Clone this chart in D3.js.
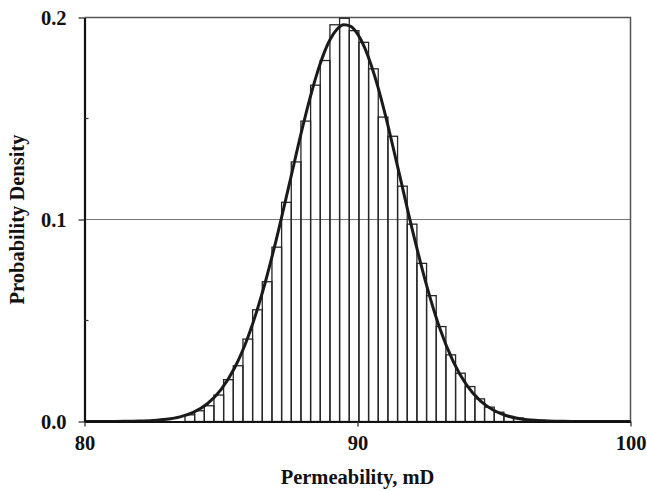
<!DOCTYPE html>
<html>
<head>
<meta charset="utf-8">
<script src="https://cdn.jsdelivr.net/npm/d3@7"></script>
<style>
  html, body { margin: 0; padding: 0; background: #fff; }
  svg { display: block; }
  text { font-family: "Liberation Serif", "Times New Roman", serif; font-weight: bold; fill: #111; }
</style>
</head>
<body>
<svg id="chart" width="647" height="491"></svg>
<script>
// Histogram bin edges (mD); bar i spans binEdges[i] .. binEdges[i+1]
const binEdges = [83.680, 84.034, 84.388, 84.742, 85.096, 85.450, 85.804, 86.158, 86.512,
  86.866, 87.220, 87.574, 87.928, 88.282, 88.636, 88.990, 89.344, 89.698, 90.052, 90.406,
  90.760, 91.114, 91.468, 91.822, 92.176, 92.530, 92.884, 93.238, 93.592, 93.946, 94.300,
  94.654, 95.008, 95.362, 95.716, 96.070];

// Probability density of each bin
const binDensity = [0.0033, 0.0053, 0.0078, 0.0131, 0.0207, 0.0276, 0.0408, 0.0553, 0.0692,
  0.0863, 0.1085, 0.1285, 0.1487, 0.1665, 0.1787, 0.1964, 0.1996, 0.1935, 0.1877, 0.1746,
  0.1507, 0.1412, 0.1165, 0.0977, 0.0783, 0.0623, 0.0470, 0.0330, 0.0239, 0.0173, 0.0112,
  0.0071, 0.0046, 0.0025, 0.0017];

// Fitted density curve: permeability and density
const curveX = [80, 80.5, 81, 81.5, 82, 82.5, 83, 83.5, 84, 84.5, 85, 85.5, 86, 86.5, 87, 87.5,
  88, 88.25, 88.5, 88.75, 89, 89.25, 89.5, 89.75, 90, 90.25, 90.5, 90.75, 91, 91.5, 92, 92.5,
  93, 93.5, 94, 94.5, 95, 95.5, 96, 96.5, 97, 97.5, 98, 98.5, 99, 99.5, 100];
const curveY = [0, 0.00001, 0.00003, 0.00007, 0.00019, 0.00046, 0.00106, 0.00228, 0.00462,
  0.00879, 0.01576, 0.02659, 0.04221, 0.0631, 0.0887, 0.1174, 0.1463, 0.1596, 0.1715, 0.1815,
  0.1892, 0.1942, 0.1964, 0.1956, 0.1919, 0.1855, 0.1765, 0.1655, 0.1528, 0.1244, 0.0954,
  0.0689, 0.0467, 0.0299, 0.01796, 0.01018, 0.00542, 0.00272, 0.00128, 0.00057, 0.00024,
  0.00009, 0.00003, 0, 0, 0, 0];

// Axis ticks
const xTicks = [80, 90, 100];
const yTicks = [0.0, 0.1, 0.2];
const yMinorTicks = [0.05, 0.15];
const xTitle = "Permeability, mD";
const yTitle = "Probability Density";

const svg = d3.select("#chart");
const plot = { left: 84.5, right: 630.5, top: 17.5, bottom: 421.5 };

const x = d3.scaleLinear().domain([80, 100]).range([plot.left, plot.right]);
const y = d3.scaleLinear().domain([0, 0.2]).range([plot.bottom, plot.top]);

// gridline at 0.1
svg.append("g").selectAll("line").data([0.1]).join("line")
  .attr("x1", plot.left).attr("x2", plot.right)
  .attr("y1", d => y(d)).attr("y2", d => y(d))
  .attr("stroke", "#777").attr("stroke-width", 1.2);

// top and right frame
svg.append("path")
  .attr("d", `M${plot.left},${plot.top}H${plot.right}V${plot.bottom}`)
  .attr("fill", "none").attr("stroke", "#555").attr("stroke-width", 1.5);

// histogram bars
const bars = binDensity.map((d, i) => ({ x0: binEdges[i], x1: binEdges[i + 1], v: d }));
svg.append("g").selectAll("rect").data(bars).join("rect")
  .attr("x", d => x(d.x0))
  .attr("width", d => x(d.x1) - x(d.x0))
  .attr("y", d => y(d.v))
  .attr("height", d => y(0) - y(d.v))
  .attr("fill", "none")
  .attr("stroke", "#262626")
  .attr("stroke-width", 1.3);

// density curve
const line = d3.line()
  .x((d, i) => x(curveX[i]))
  .y(d => y(d))
  .curve(d3.curveMonotoneX);
svg.append("path")
  .attr("d", line(curveY))
  .attr("fill", "none")
  .attr("stroke", "#1a1a1a")
  .attr("stroke-width", 3);

// x axis
const xAxis = d3.axisBottom(x).tickValues(xTicks).tickFormat(d3.format("d"))
  .tickSizeInner(5).tickSizeOuter(0).tickPadding(9);
const gx = svg.append("g").attr("transform", `translate(0,${plot.bottom})`).call(xAxis);
gx.select(".domain").attr("stroke", "#111").attr("stroke-width", 2.2);
gx.selectAll(".tick line").attr("stroke", "#333").attr("stroke-width", 1.3);
gx.selectAll(".tick text").attr("font-size", 20.5).attr("font-family", "Liberation Serif")
  .attr("font-weight", "bold").attr("fill", "#111");

// y axis
const yAxis = d3.axisLeft(y).tickValues(yTicks).tickFormat(d3.format(".1f"))
  .tickSizeInner(6).tickSizeOuter(0).tickPadding(12);
const gy = svg.append("g").attr("transform", `translate(${plot.left},0)`).call(yAxis);
gy.select(".domain").attr("stroke", "#111").attr("stroke-width", 2.2);
gy.selectAll(".tick line").attr("stroke", "#333").attr("stroke-width", 1.3);
gy.selectAll(".tick text").attr("font-size", 20.5).attr("font-family", "Liberation Serif")
  .attr("font-weight", "bold").attr("fill", "#111");

// minor y ticks, pointing inward
svg.append("g").selectAll("line").data(yMinorTicks).join("line")
  .attr("x1", plot.left).attr("x2", plot.left + 4)
  .attr("y1", d => y(d)).attr("y2", d => y(d))
  .attr("stroke", "#333").attr("stroke-width", 1.2);

// axis titles
svg.append("text")
  .attr("x", (plot.left + plot.right) / 2).attr("y", 484)
  .attr("text-anchor", "middle").attr("font-size", 20.5)
  .text(xTitle);
svg.append("text")
  .attr("transform", `translate(24,${(plot.top + plot.bottom) / 2}) rotate(-90)`)
  .attr("text-anchor", "middle").attr("font-size", 20.5)
  .text(yTitle);
</script>
</body>
</html>
